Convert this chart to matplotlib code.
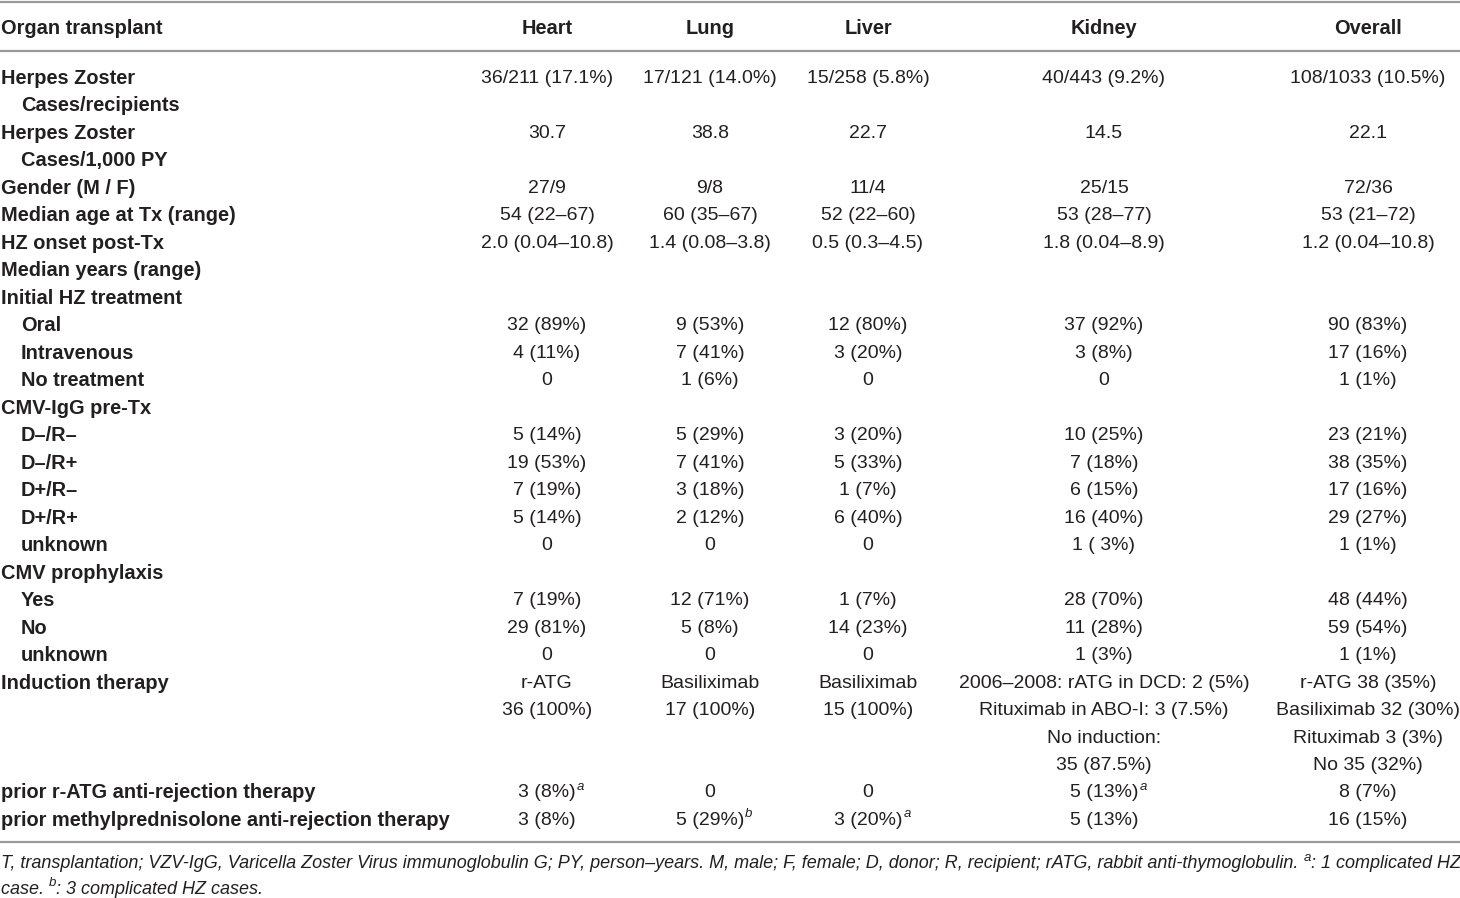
import matplotlib
matplotlib.use("Agg")
import matplotlib.pyplot as plt
from matplotlib import font_manager

names = {f.name for f in font_manager.fontManager.ttflist}
LABEL_FONT = ['Liberation Sans Narrow', 'Liberation Sans', 'DejaVu Sans'] if 'Liberation Sans Narrow' in names else ['Liberation Sans', 'DejaVu Sans']
DATA_FONT = ['Liberation Sans', 'DejaVu Sans']

columns = ["Heart", "Lung", "Liver", "Kidney", "Overall"]
header_label = "Organ transplant"

row_labels = [
    ("Herpes Zoster", 0), ("Cases/recipients", 1),
    ("Herpes Zoster", 0), ("Cases/1,000 PY", 1),
    ("Gender (M / F)", 0), ("Median age at Tx (range)", 0),
    ("HZ onset post-Tx", 0), ("Median years (range)", 0),
    ("Initial HZ treatment", 0), ("Oral", 1), ("Intravenous", 1), ("No treatment", 1),
    ("CMV-IgG pre-Tx", 0), ("D\u2013/R\u2013", 1), ("D\u2013/R+", 1), ("D+/R\u2013", 1),
    ("D+/R+", 1), ("unknown", 1),
    ("CMV prophylaxis", 0), ("Yes", 1), ("No", 1), ("unknown", 1),
    ("Induction therapy", 0), ("", 0), ("", 0), ("", 0),
    ("prior r-ATG anti-rejection therapy", 0),
    ("prior methylprednisolone anti-rejection therapy", 0),
]

heart = ["36/211 (17.1%)", "", "30.7", "", "27/9", "54 (22\u201367)", "2.0 (0.04\u201310.8)", "", "",
         "32 (89%)", "4 (11%)", "0", "", "5 (14%)", "19 (53%)", "7 (19%)", "5 (14%)", "0", "",
         "7 (19%)", "29 (81%)", "0", "r-ATG", "36 (100%)", "", "", "3 (8%)", "3 (8%)"]
lung = ["17/121 (14.0%)", "", "38.8", "", "9/8", "60 (35\u201367)", "1.4 (0.08\u20133.8)", "", "",
        "9 (53%)", "7 (41%)", "1 (6%)", "", "5 (29%)", "7 (41%)", "3 (18%)", "2 (12%)", "0", "",
        "12 (71%)", "5 (8%)", "0", "Basiliximab", "17 (100%)", "", "", "0", "5 (29%)"]
liver = ["15/258 (5.8%)", "", "22.7", "", "11/4", "52 (22\u201360)", "0.5 (0.3\u20134.5)", "", "",
         "12 (80%)", "3 (20%)", "0", "", "3 (20%)", "5 (33%)", "1 (7%)", "6 (40%)", "0", "",
         "1 (7%)", "14 (23%)", "0", "Basiliximab", "15 (100%)", "", "", "0", "3 (20%)"]
kidney = ["40/443 (9.2%)", "", "14.5", "", "25/15", "53 (28\u201377)", "1.8 (0.04\u20138.9)", "", "",
          "37 (92%)", "3 (8%)", "0", "", "10 (25%)", "7 (18%)", "6 (15%)", "16 (40%)", "1 ( 3%)", "",
          "28 (70%)", "11 (28%)", "1 (3%)", "2006\u20132008: rATG in DCD: 2 (5%)",
          "Rituximab in ABO-I: 3 (7.5%)", "No induction:", "35 (87.5%)", "5 (13%)", "5 (13%)"]
overall = ["108/1033 (10.5%)", "", "22.1", "", "72/36", "53 (21\u201372)", "1.2 (0.04\u201310.8)", "", "",
           "90 (83%)", "17 (16%)", "1 (1%)", "", "23 (21%)", "38 (35%)", "17 (16%)", "29 (27%)", "1 (1%)", "",
           "48 (44%)", "59 (54%)", "1 (1%)", "r-ATG 38 (35%)", "Basiliximab 32 (30%)",
           "Rituximab 3 (3%)", "No 35 (32%)", "8 (7%)", "16 (15%)"]
col_values = [heart, lung, liver, kidney, overall]

# superscripts: (row index, column index, letter)
superscripts = [(26, 0, "a"), (26, 3, "a"), (27, 1, "b"), (27, 2, "a")]

footnote_lines = [
    [("T, transplantation; VZV-IgG, Varicella Zoster Virus immunoglobulin G; PY, person\u2013years. M, male; F, female; D, donor; R, recipient; rATG, rabbit anti-thymoglobulin. ", False),
     ("a", True), (": 1 complicated HZ", False)],
    [("case. ", False), ("b", True), (": 3 complicated HZ cases.", False)],
]

W, H = 1460, 898
fig = plt.figure(figsize=(W / 100, H / 100), dpi=100)
ax = fig.add_axes([0, 0, 1, 1])
ax.set_xlim(0, W)
ax.set_ylim(H, 0)
ax.axis("off")

TXT = "#231f20"
FS = 14
LFS = 14.4
col_x = [547, 710, 868, 1104, 1368]
y0 = 78.5
dy = 27.48
header_y = 28

ax.axhline(1.5, color="#9a9a9a", lw=1.6)
ax.axhline(50.5, color="#9a9a9a", lw=1.6)
ax.axhline(842, color="#9a9a9a", lw=1.6)

ax.text(1, header_y, header_label, ha="left", va="center", fontsize=LFS, fontweight="bold",
        family=LABEL_FONT, color=TXT)
for cx, name in zip(col_x, columns):
    ax.text(cx, header_y, name, ha="center", va="center", fontsize=LFS, fontweight="bold",
            family=LABEL_FONT, color=TXT)

cells = {}
for i, (lab, ind) in enumerate(row_labels):
    y = y0 + i * dy
    if lab:
        ax.text(1 + ind * 20, y, lab, ha="left", va="center", fontsize=LFS, fontweight="bold",
                family=LABEL_FONT, color=TXT)
    for j, vals in enumerate(col_values):
        if vals[i]:
            cells[(i, j)] = ax.text(col_x[j], y, vals[i], ha="center", va="center", fontsize=FS,
                                    family=DATA_FONT, color=TXT)

fig.canvas.draw()
renderer = fig.canvas.get_renderer()
inv = ax.transData.inverted()
for (i, j, letter) in superscripts:
    t = cells[(i, j)]
    bb = t.get_window_extent(renderer)
    x1, _ = inv.transform((bb.x1, bb.y1))
    ax.text(x1 + 1, y0 + i * dy - 6, letter, ha="left", va="center", fontsize=9.5,
            style="italic", family=DATA_FONT, color=TXT)

foot_y = [864, 889]
for line, fy in zip(footnote_lines, foot_y):
    x = 1
    for seg, sup in line:
        t = ax.text(x, fy - (6 if sup else 0), seg, ha="left", va="center",
                    fontsize=9.5 if sup else 13, style="italic", family=DATA_FONT, color=TXT)
        bb = t.get_window_extent(renderer)
        x = inv.transform((bb.x1, bb.y1))[0]

fig.savefig("out.png", dpi=100, facecolor="white")
